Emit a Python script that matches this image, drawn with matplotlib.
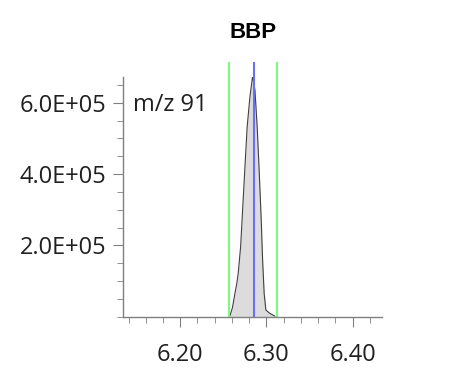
import matplotlib
matplotlib.use("Agg")
import matplotlib.pyplot as plt
from matplotlib.ticker import MultipleLocator, FixedLocator

plt.rcParams['font.family'] = ['Open Sans', 'DejaVu Sans']

# peak trace
rt = [6.2562, 6.2576, 6.2605, 6.2634, 6.2655, 6.2672, 6.2700, 6.2723, 6.2750,
      6.2776, 6.2808, 6.2839, 6.2866, 6.2892, 6.2915, 6.2939, 6.2955, 6.2973,
      6.2993, 6.3039, 6.3097]
intensity = [0, 2000, 25000, 65000, 92000, 121000, 196000, 299000, 420000,
             533000, 617000, 675000, 636000, 533000, 411000, 271000, 159000,
             65000, 18500, 9000, 1500]

# integration bounds and apex marker
bounds = [6.2564, 6.3117]
apex_rt = 6.2854

title = "BBP"
label = "m/z 91"
x_major = [6.20, 6.30, 6.40]
y_major = [2e5, 4e5, 6e5]

fig = plt.figure(figsize=(4.5, 3.8), dpi=100)
ax = fig.add_axes([0.2733, 0.1668, 0.5757, 0.630])

ax.fill_between(rt, intensity, 0, color="#dcdcdc", lw=0)
ax.plot(rt, intensity, color="#404040", lw=0.8)

ax_top = 1.06
for b in bounds:
    ax.axvline(b, ymin=0, ymax=ax_top, color="#7cfa7c", lw=1.5, clip_on=False)
ax.axvline(apex_rt, ymin=0, ymax=ax_top, color="#6e6ef5", lw=1.5, clip_on=False)

ax.set_xlim(6.1336, 6.434)
ax.set_ylim(0, 672000)

ax.xaxis.set_major_locator(FixedLocator(x_major))
ax.xaxis.set_minor_locator(MultipleLocator(0.02))
ax.set_xticklabels(["%.2f" % v for v in x_major])
ax.yaxis.set_major_locator(FixedLocator(y_major))
ax.yaxis.set_minor_locator(MultipleLocator(50000))
ax.set_yticklabels(["%.1fE+05" % (v / 1e5) for v in y_major])

for side in ["top", "right"]:
    ax.spines[side].set_visible(False)
for side in ["left", "bottom"]:
    ax.spines[side].set_color("#808080")
    ax.spines[side].set_linewidth(1)

ax.tick_params(axis="both", which="major", length=7, color="#808080",
               labelsize=17, labelcolor="#202020", pad=5)
ax.tick_params(axis="both", which="minor", length=4, color="#808080")
ax.tick_params(axis="x", which="major", pad=12)

ax.text(0.04, 0.935, label, transform=ax.transAxes, fontsize=17,
        color="#202020", va="top", ha="left")
fig.text(253 / 450, 1 - 33 / 380, title, fontsize=16, fontweight="bold",
         family=["Liberation Sans", "DejaVu Sans"],
         ha="center", va="center", color="black")

fig.savefig("out.png", dpi=100)
